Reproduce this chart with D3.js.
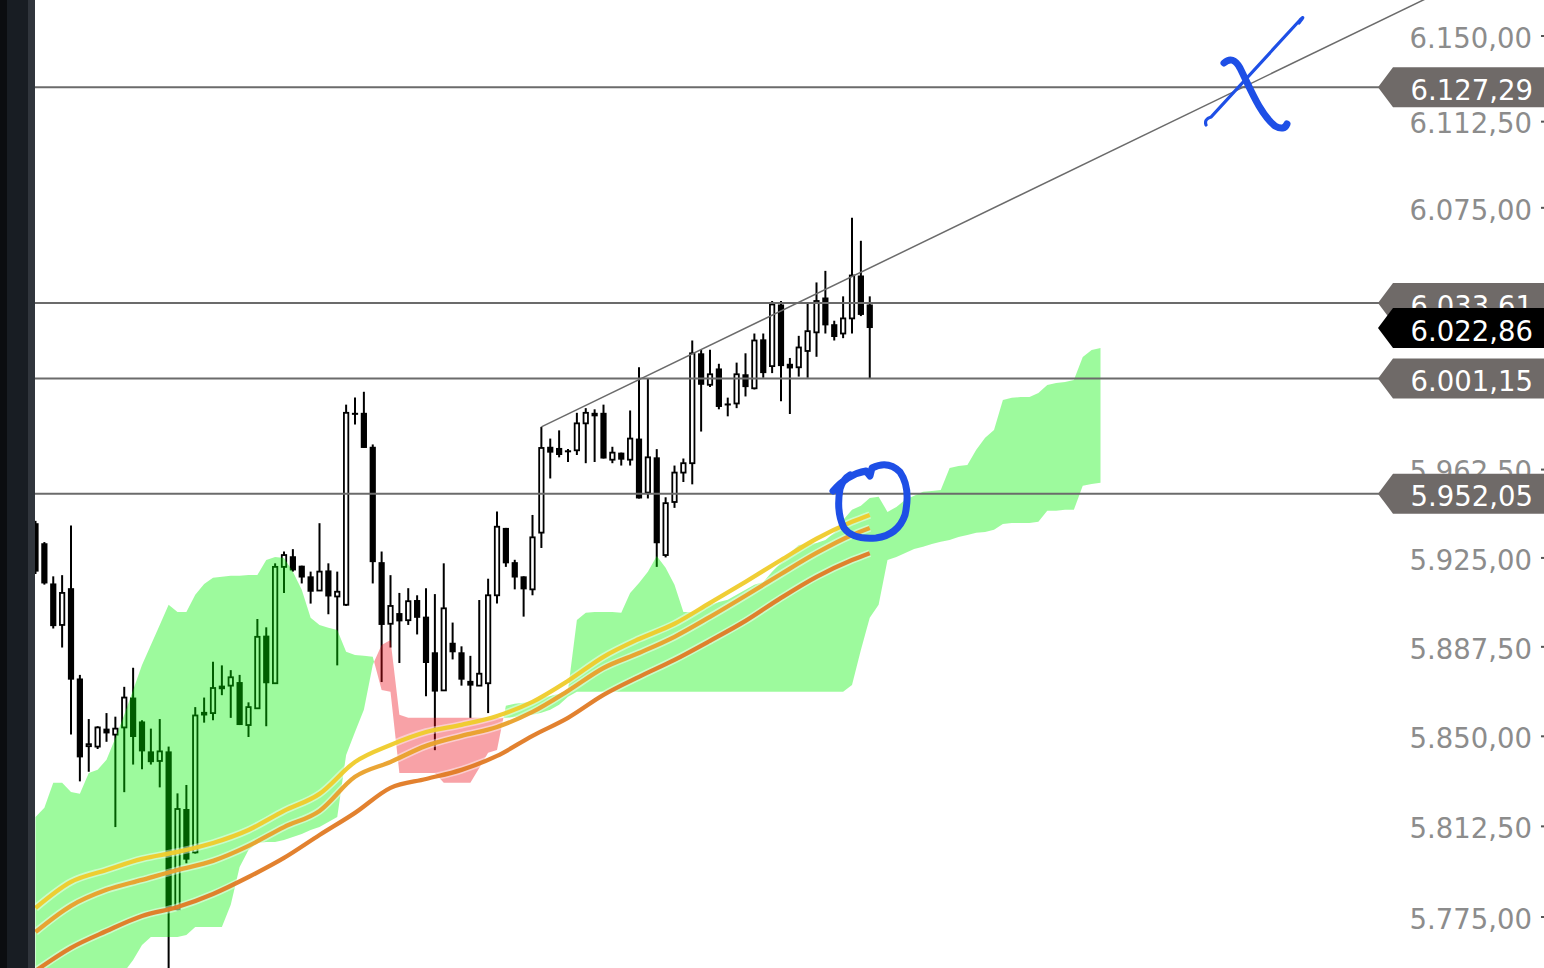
<!DOCTYPE html>
<html><head><meta charset="utf-8">
<script src="https://cdn.jsdelivr.net/npm/d3@7"></script>
<style>html,body{margin:0;padding:0;background:#fff;overflow:hidden}</style>
</head><body><svg id="c" width="1544" height="968"></svg>
<script>
// ---- candles (index 0..94) ----
const open  = [5939.5,5931,5914,5896.5,5912,5874,5846,5845.5,5853,5850.5,5853.5,5866,5856,5843.5,5839.5,5843.5,5778,5819.5,5801.5,5860,5859.5,5871,5871,5872.5,5854.5,5861.5,5892,5872,5921,5925.5,5921.5,5917,5911,5919.5,5908.5,5905,5986.5,5986.5,5972,5923,5897,5901.5,5898.5,5907,5900,5885,5869,5889,5885,5873,5871,5872,5909,5937.5,5923,5917,5911.5,5935.5,5972,5971.5,5970.5,5970.5,5982,5986.5,5986.5,5966.5,5969.5,5966.5,5975.5,5952.5,5967.5,5926,5948.5,5961,5965,6012,5998.5,6005.5,5990.5,5990.5,6003,5997,6018,6006.5,6033,6007.5,6006,6013,6021,6036,6024.5,6020.5,6027,6045.5,6033];
const high  = [5940.5,5931.5,5917,5917.5,5938.5,5875.5,5857,5854,5859.5,5858,5870.5,5878.5,5856.5,5853,5857,5845.5,5826,5829.5,5862,5866,5881,5879.5,5877.5,5875.5,5864,5899,5895.5,5922.5,5927.5,5928.5,5921.5,5919,5939.5,5922.5,5919,5990,5993,5995.5,5973,5927.5,5917.5,5910,5912,5909,5912,5909.5,5922.5,5897.5,5887.5,5883.5,5907,5916,5944.5,5937.5,5924,5917,5943,5980.5,5975.5,5979,5971,5986.5,5988.5,5988,5990,5972,5969.5,5987.5,6006,6001,5971,5950.5,5964,5967,6017.5,6013.5,6013.5,6007.5,5993,6008,6012,6020.5,6020.5,6034.5,6034.5,6010,6019.5,6034,6042.5,6047.5,6026,6036.5,6070.5,6060.5,6036.5];
const low   = [5918,5913.5,5895,5887,5850.5,5831,5835,5844.5,5847.5,5812,5826.5,5838,5836,5838,5828.5,5752,5777.5,5797,5801,5855.5,5856.5,5867,5857.5,5854.5,5849.5,5861.5,5854,5872,5910,5919,5914,5905.5,5911,5901,5879.5,5904.5,5981.5,5971.5,5914,5872.5,5887,5880.5,5896.5,5892.5,5866.5,5844,5869,5882,5871,5857.5,5871,5859.5,5905.5,5921,5911.5,5900,5909,5929,5958.5,5967.5,5965.5,5968.5,5965,5965.5,5967,5965,5964,5964,5950,5950,5921,5925,5946,5957,5956,5978.5,5997.5,5988,5985,5988.5,5993.5,5996.5,6001.5,6003.5,5991.5,5986,6002,6001.5,6010.5,6020.5,6017.5,6018.5,6020.5,6028,6001];
const close = [5919,5914,5896,5910,5873.5,5841,5846.5,5853.5,5851,5853,5866,5849.5,5843.5,5839,5843.5,5778.5,5819.5,5798.5,5858.5,5858.5,5870,5869.5,5874.5,5854.5,5862,5891.5,5872,5921,5926,5919.5,5916.5,5910.5,5919,5908.5,5910.5,5986.5,5986,5971.5,5923,5896.5,5904.5,5898,5906.5,5899.5,5880.5,5868.5,5903.5,5885,5873.5,5871,5876,5909,5938,5922.5,5916.5,5911.5,5933.5,5971.5,5969.5,5968.5,5970,5982,5986.5,5985,5967,5969.5,5966.5,5975.5,5950,5967.5,5931,5948,5961,5965,6012,5998.5,6003,5989,5990,6003,5997.5,6017.5,6003.5,6033,6006.5,6005.5,6014.5,6021.5,6034.5,6024,6019,6027,6045.5,6028.5,6022.86];

// ---- moving averages, read at these candle indices ----
const maIdx = [0,4,8,12,16,20,24,28,32,36,40,44,48,52,56,60,64,68,72,76,80,84,88,92,94];
const maYellow = [5778.5,5789.3,5794.2,5798.8,5801.7,5805.4,5810.8,5818.7,5825.8,5839.1,5846.2,5851.6,5854.6,5858.3,5864.2,5873.0,5883.1,5890.6,5897.0,5905.8,5914.7,5923.9,5932.9,5940.1,5943.0];
const maOrange = [5768.6,5779.4,5786.0,5790.1,5794.2,5798.0,5804.2,5812.0,5818.7,5832.9,5839.1,5845.8,5850.0,5853.7,5860.0,5868.8,5878.4,5884.7,5891.5,5899.9,5908.8,5918.0,5926.9,5934.5,5937.5];
const maDark   = [5752.6,5762.1,5769.0,5775.2,5778.9,5784.3,5791.3,5799.2,5808.7,5817.9,5828.3,5832.0,5835.8,5841.6,5850.0,5857.5,5867.1,5874.7,5881.8,5889.8,5898.2,5907.9,5916.8,5923.9,5926.8];

// ---- Ichimoku cloud spans, index 0..120 ----
const spanA = [5816.2,5820.0,5830.4,5830.4,5826.6,5825.8,5834.5,5835.8,5840.0,5849.1,5858.8,5869.2,5879.7,5888.1,5896.5,5905.0,5902.0,5902.0,5909.2,5913.8,5916.4,5916.8,5917.2,5917.2,5917.6,5917.6,5923.9,5925.2,5924.8,5918.9,5911.3,5899.5,5896.5,5895.3,5894.4,5885.2,5883.9,5883.5,5883.1,5869.2,5868.4,5834.5,5834.5,5834.5,5834.5,5834.5,5830.4,5830.4,5830.4,5830.4,5836.6,5842.9,5844.1,5862.6,5863.4,5863.8,5864.2,5865.9,5866.7,5867.6,5869.2,5898.6,5901.6,5902.0,5902.0,5902.0,5901.6,5910.0,5914.2,5918.9,5925.6,5920.6,5913.4,5902.0,5902.0,5903.7,5905.0,5906.2,5907.1,5909.2,5911.3,5913.4,5914.6,5918.9,5922.7,5926.9,5930.3,5930.7,5931.1,5932.4,5935.4,5940.9,5945.2,5946.9,5950.2,5950.7,5944.3,5946.4,5949.4,5951.1,5952.8,5953.2,5953.6,5963.0,5963.8,5964.2,5970.7,5975.8,5979.2,5992.0,5992.9,5993.3,5993.3,5995.0,5998.4,5999.3,5999.7,6000.6,6010.4,6013.4,6014.3];
const spanB = [5738,5738,5739,5739,5740,5741,5742,5744,5746,5748,5752.2,5757.1,5763.3,5766.6,5766.6,5766.6,5766.6,5767.4,5770.7,5770.7,5770.7,5770.7,5779.8,5795.5,5802.5,5805.4,5805.8,5805.8,5806.6,5807.9,5809.1,5810.8,5812.0,5814.1,5816.2,5842.0,5851.6,5860.9,5879.7,5888.1,5890.2,5858.8,5857.5,5857.5,5857.5,5857.5,5857.5,5857.5,5857.5,5857.5,5857.5,5857.5,5857.5,5857.5,5857.9,5858.4,5858.8,5859.6,5860.9,5863.0,5866.3,5868.4,5868.4,5868.4,5868.4,5868.4,5868.4,5868.4,5868.4,5868.4,5868.4,5868.4,5868.4,5868.4,5868.4,5868.4,5868.4,5868.4,5868.4,5868.4,5868.4,5868.4,5868.4,5868.4,5868.4,5868.4,5868.4,5868.4,5868.4,5868.4,5868.4,5868.4,5871.3,5886.0,5899.5,5905.0,5923.9,5925.2,5926.9,5928.6,5929.5,5930.7,5931.6,5932.4,5933.7,5934.5,5935.4,5935.8,5936.7,5939.2,5939.6,5939.6,5939.6,5940.1,5944.8,5944.8,5945.2,5945.2,5955.4,5956.2,5956.7];

// ---- levels, trend line, axis ticks ----
const levels = [6127.29, 6033.61, 6001.15, 5952.05];
const lastPrice = 6022.86;
const trendIdx = [57, 157];
const trendVal = [5980.5, 6166.8];
const tickVals = [6150, 6112.5, 6075, 6037.5, 6000, 5962.5, 5925, 5887.5, 5850, 5812.5, 5775];

const W = 1544, H = 968;
const svg = d3.select("#c");
const x = d3.scaleLinear().domain([0, 150]).range([35.5, 35.5 + 150 * 8.875]);
const y = d3.scaleLog().domain([5775, 6150]).range([916.5, 35.5]);
const fmt = d3.formatLocale({decimal: ",", thousands: ".", grouping: [3], currency: ["", ""]}).format(",.2f");
const FONT = "DejaVu Sans";

svg.append("rect").attr("width", W).attr("height", H).attr("fill", "#fff");

// axis labels (right)
const ax = svg.append("g").attr("transform", `translate(${W},0)`)
  .call(d3.axisLeft(y).tickValues(tickVals).tickFormat(fmt).tickSize(3).tickPadding(9));
ax.select(".domain").remove();
ax.selectAll(".tick line").attr("stroke", "#555").attr("stroke-width", 2);
ax.selectAll(".tick text").attr("font-family", FONT).attr("font-size", 27.5)
  .attr("fill", "#8c8c8c").attr("dy", "0.43em");

// candles
const candles = open.map((o, i) => ({i, o, h: high[i], l: low[i], c: close[i]}));
const cg = svg.append("g");
const bw = 6.2;
cg.selectAll("line.w").data(candles).join("line")
  .attr("x1", d => x(d.i)).attr("x2", d => x(d.i))
  .attr("y1", d => y(d.h)).attr("y2", d => y(d.l))
  .attr("stroke", "#000").attr("stroke-width", 2);
cg.selectAll("rect.b").data(candles).join("rect")
  .attr("x", d => d.c >= d.o ? x(d.i) - bw / 2 + 0.9 : x(d.i) - bw / 2)
  .attr("width", d => d.c >= d.o ? bw - 1.8 : bw)
  .attr("y", d => y(Math.max(d.o, d.c)))
  .attr("height", d => Math.max(2, y(Math.min(d.o, d.c)) - y(Math.max(d.o, d.c))))
  .attr("fill", d => d.c >= d.o ? "#fff" : "#000")
  .attr("stroke", d => d.c >= d.o ? "#000" : "none")
  .attr("stroke-width", 1.8);

// cloud with crossings inserted
const pts = [];
for (let i = 0; i < spanA.length; i++) {
  pts.push({i, a: spanA[i], b: spanB[i]});
  if (i < spanA.length - 1) {
    const d0 = y(spanA[i]) - y(spanB[i]), d1 = y(spanA[i + 1]) - y(spanB[i + 1]);
    if (d0 * d1 < 0) {
      const t = d0 / (d0 - d1);
      const ya = y(spanA[i]) + t * (y(spanA[i + 1]) - y(spanA[i]));
      const v = y.invert(ya);
      pts.push({i: i + t, a: v, b: v});
    }
  }
}
const green = d3.area().x(d => x(d.i)).y0(d => y(d.b)).y1(d => Math.min(y(d.a), y(d.b)));
const red = d3.area().x(d => x(d.i)).y0(d => y(d.a)).y1(d => Math.min(y(d.a), y(d.b)));
svg.append("path").attr("d", green(pts)).attr("fill", "rgb(0,242,0)").attr("fill-opacity", 0.385);
svg.append("path").attr("d", red(pts)).attr("fill", "rgb(236,10,24)").attr("fill-opacity", 0.38);

// horizontal levels
svg.append("g").selectAll("line").data(levels).join("line")
  .attr("x1", 35).attr("x2", 1380).attr("y1", d => y(d)).attr("y2", d => y(d))
  .attr("stroke", "#6b6b6b").attr("stroke-width", 2);

// moving averages
const maLine = vals => d3.line().x((d, k) => x(maIdx[k])).y(d => y(d)).curve(d3.curveMonotoneX)(vals);
[[maDark, "#e07a24"], [maOrange, "#e9a02a"], [maYellow, "#efcb2a"]].forEach(([v, col]) => {
  svg.append("path").attr("d", maLine(v)).attr("fill", "none").attr("stroke", "#fff")
    .attr("stroke-opacity", 0.45).attr("stroke-width", 7.5);
  svg.append("path").attr("d", maLine(v)).attr("fill", "none").attr("stroke", col)
    .attr("stroke-width", 4.3).attr("stroke-opacity", 0.95);
});

// trend line
svg.append("line").attr("x1", x(trendIdx[0])).attr("y1", y(trendVal[0]))
  .attr("x2", x(trendIdx[1])).attr("y2", y(trendVal[1]))
  .attr("stroke", "#6b6b6b").attr("stroke-width", 1.5);

// price tags
function tag(v, fill) {
  const yc = y(v);
  const g = svg.append("g");
  g.append("path").attr("d", `M1378,${yc} L1393,${yc - 20} L${W},${yc - 20} L${W},${yc + 20} L1393,${yc + 20} Z`)
    .attr("fill", fill);
  g.append("text").attr("x", 1533).attr("y", yc + 12.5).attr("text-anchor", "end")
    .attr("font-family", FONT).attr("font-size", 27.5).attr("fill", "#fff").text(fmt(v));
}
tag(levels[0], "#6f6a68");
tag(levels[1], "#6f6a68");
tag(lastPrice, "#000");
tag(levels[2], "#6f6a68");
tag(levels[3], "#6f6a68");

// left dark strip
svg.append("rect").attr("x", 0).attr("y", 0).attr("width", 35).attr("height", H).attr("fill", "#30353c");
svg.append("rect").attr("x", 0).attr("y", 0).attr("width", 28).attr("height", H).attr("fill", "#181d23");
svg.append("rect").attr("x", 0).attr("y", 0).attr("width", 7).attr("height", H).attr("fill", "#0b0d10");

// hand-drawn annotations
const blue = "#1e4fe6";
svg.append("path").attr("d", "M1206,125 Q1204,119 1211,117 L1300,20 Q1306,14 1299,23")
  .attr("fill", "none").attr("stroke", blue).attr("stroke-width", 3.2).attr("stroke-linecap", "round");
svg.append("path").attr("d", "M1224,63 Q1233,55 1240,68 C1250,88 1260,114 1275,126 Q1284,131 1287,124")
  .attr("fill", "none").attr("stroke", blue).attr("stroke-width", 7).attr("stroke-linecap", "round").attr("stroke-linejoin", "round");
svg.append("path").attr("d", "M833,491 Q848,474 866,471 L870,476 L872,468 Q888,460 900,472 Q911,488 905,515 Q898,535 876,538 Q853,540 844,528 Q836,512 840,489 Q843,479 850,475")
  .attr("fill", "none").attr("stroke", blue).attr("stroke-width", 7).attr("stroke-linecap", "round").attr("stroke-linejoin", "round");
</script></body></html>
